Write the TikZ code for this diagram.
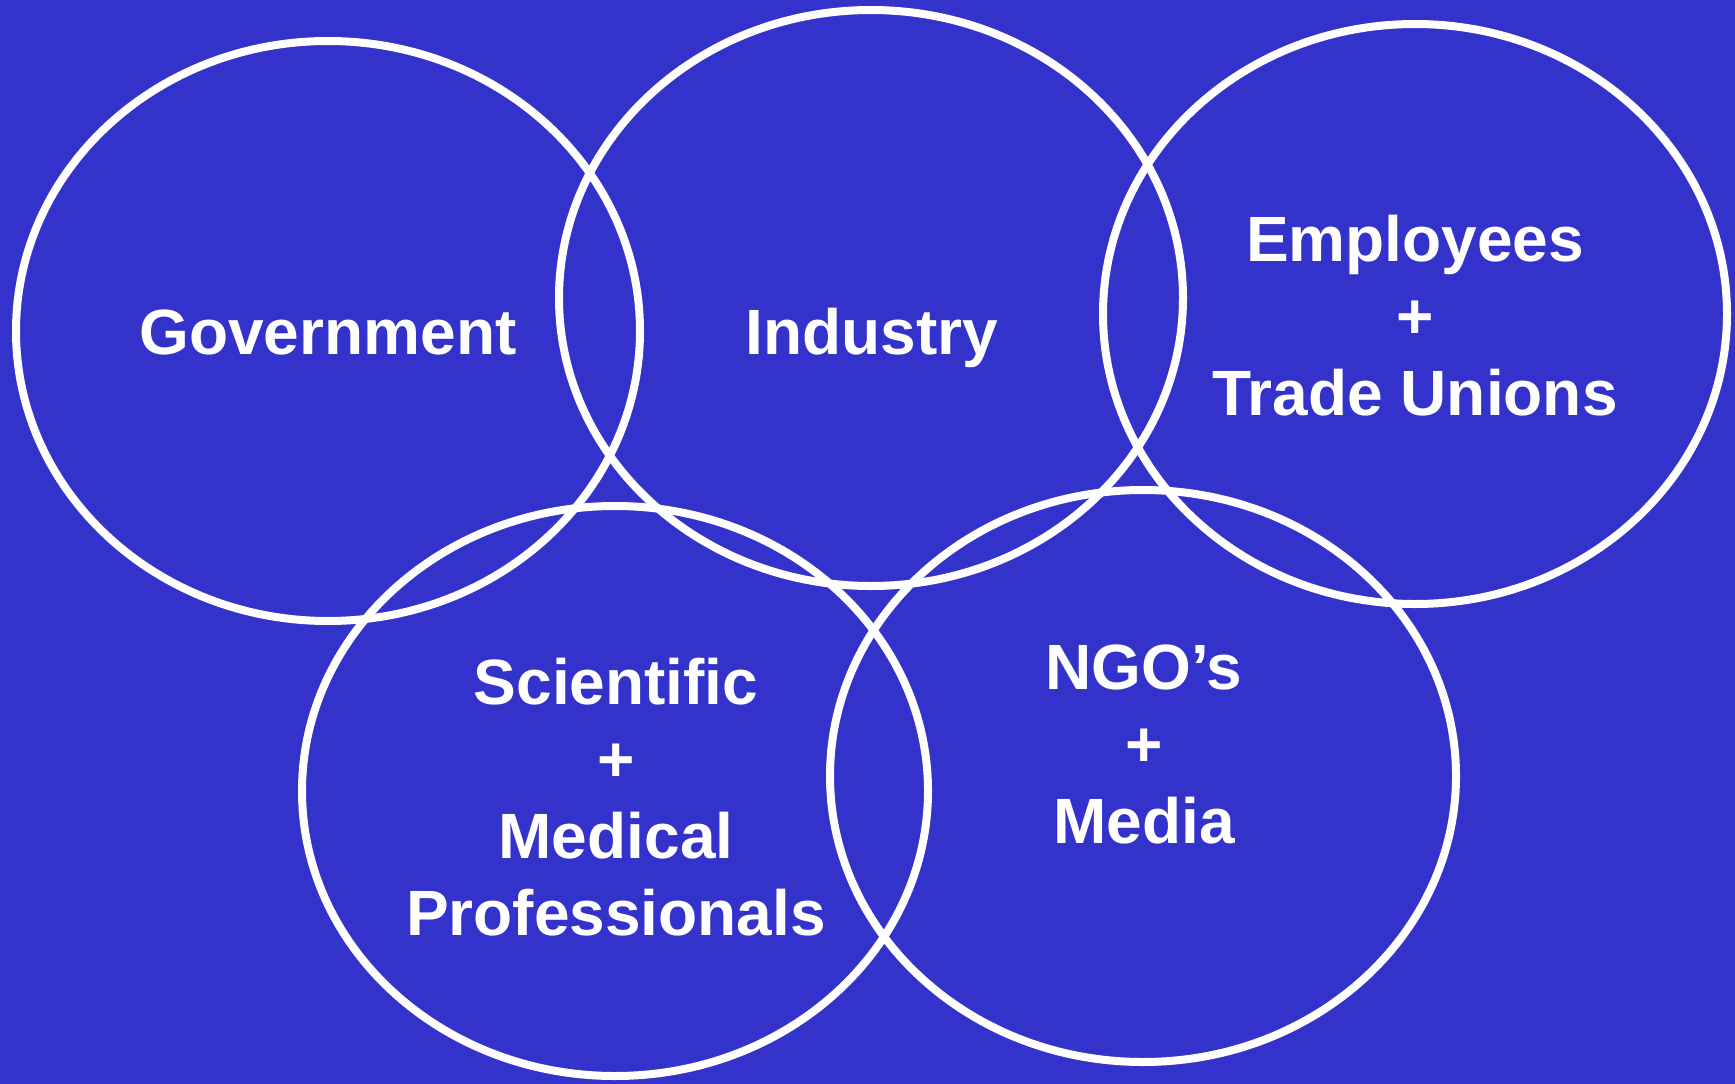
\documentclass[tikz,border=0pt]{standalone}
\usepackage{fontspec}
\setmainfont{Liberation Sans}
\definecolor{bgblue}{RGB}{51,51,204}
\begin{document}
\begin{tikzpicture}[x=1pt,y=-1pt,
  ring/.style={draw=white,line width=8pt},
  lbl/.style={text=white,font=\fontsize{64}{77}\selectfont\bfseries,align=center,inner sep=0pt}]
\fill[bgblue] (0,0) rectangle (1735,1084);
\useasboundingbox (0,0) rectangle (1735,1084);
\draw[ring] (328,331) ellipse [x radius=312, y radius=290];
\draw[ring] (871,298) ellipse [x radius=312, y radius=288];
\draw[ring] (1415,314) ellipse [x radius=312, y radius=290];
\draw[ring] (615,791) ellipse [x radius=313, y radius=285];
\draw[ring] (1143,776) ellipse [x radius=313, y radius=286];
\node[lbl] (gov) at (328,332) {Government};
\node[lbl] (ind) at (872,338) {Industry};
\node[lbl] (emp) at (1415,316) {Employees\\+\\Trade Unions};
\node[lbl] (sci) at (616,797) {Scientific\\+\\Medical\\Professionals};
\node[lbl] (ngo) at (1144,744) {NGO’s\\+\\Media};
\end{tikzpicture}
\end{document}
